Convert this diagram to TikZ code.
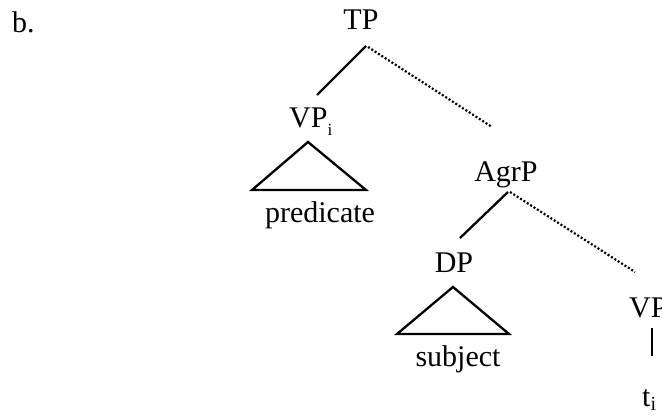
\documentclass[tikz,border=0pt]{standalone}
\usepackage{fontspec}
\setmainfont{Liberation Serif}
\newcommand{\subsc}[1]{\raisebox{-0.25em}{\fontsize{17}{19}\selectfont #1}}
\newcommand{\subsct}[1]{\raisebox{-0.12em}{\fontsize{20}{22}\selectfont #1}}
\begin{document}
\begin{tikzpicture}[x=1pt,y=-1pt,
  lbl/.style={inner sep=0pt,font=\fontsize{30}{35}\selectfont},
  branch/.style={line width=2.3pt},
  dots/.style={line width=2.2pt,dash pattern=on 2pt off 2pt},
  tri/.style={line width=2.3pt,line join=miter}]
\useasboundingbox (0,0) rectangle (662,419);
% labels
\node[lbl,anchor=base west] (b) at (12,33) {b.};
\node[lbl,anchor=base] (tp) at (361,30) {TP};
\node[lbl,anchor=base west] (vpi) at (289,128) {VP\subsc{i}};
\node[lbl,anchor=base] (pred) at (320,223) {predicate};
\node[lbl,anchor=base] (agrp) at (506,182) {AgrP};
\node[lbl,anchor=base] (dp) at (454,273) {DP};
\node[lbl,anchor=base] (subj) at (458,367) {subject};
\node[lbl,anchor=base west] (vp) at (629,318) {VP};
\node[lbl,anchor=base west] (ti) at (642,407) {t\subsct{i}};
% connector ends
\coordinate (tpL) at (366,46);
\coordinate (tpR) at (368,47);
\coordinate (vpTop) at (317,95);
\coordinate (agrTop) at (492,127);
\coordinate (agrL) at (508,192);
\coordinate (agrR) at (510,192);
\coordinate (dpTop) at (460,238);
\coordinate (vpEnd) at (635,272);
\coordinate (vpBot) at (652,328);
\coordinate (tiTop) at (652,356);
% branches
\draw[branch] (tpL) -- (vpTop);
\draw[dots] (tpR) -- (agrTop);
\draw[branch] (agrL) -- (dpTop);
\draw[dots] (agrR) -- (vpEnd);
\draw[line width=1.8pt] (vpBot) -- (tiTop);
% triangles
\draw[tri] (308,142) -- (366,190) -- (252,190) -- cycle;
\draw[tri] (453,287) -- (509,334) -- (397,334) -- cycle;
\end{tikzpicture}
\end{document}
